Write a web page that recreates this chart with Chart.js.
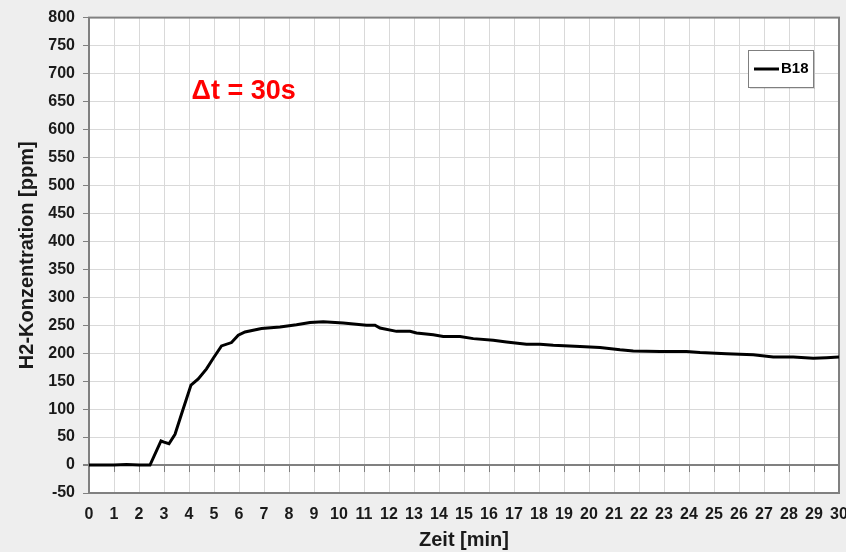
<!DOCTYPE html>
<html>
<head>
<meta charset="utf-8">
<script src="https://cdn.jsdelivr.net/npm/chart.js@4"></script>
<style>
  html, body { margin: 0; padding: 0; background: #eeeeee; }
  #wrap { width: 846px; height: 552px; }
</style>
</head>
<body>
<div id="wrap"><canvas id="chartH2" width="846" height="552"></canvas></div>
<script>
// Zeit [min] und H2-Konzentration [ppm]
const times = [0, 0.5, 1, 1.5, 2, 2.44, 2.88, 3.0, 3.2, 3.44, 3.75, 4.08, 4.37, 4.7, 4.97, 5.3, 5.7, 5.97,
  6.24, 6.9, 7.64, 8.3, 8.84, 9.37, 10.17, 11.1, 11.44, 11.64, 12.3, 12.84, 13.1, 13.77, 14.17, 14.84,
  15.37, 16.17, 16.7, 17.5, 18.04, 18.57, 19.64, 20.44, 21.24, 21.77, 22.84, 23.9, 24.44, 25.5, 26.57,
  27.37, 28.17, 28.97, 29.5, 30];
const valuesB18 = [0, 0, 0, 1, 0, 0, 43, 41, 38, 55, 98, 143, 154, 172, 191, 213, 219, 232,
  238, 244, 247, 251, 255, 256, 254, 250, 250, 245, 239, 239, 236, 233, 230, 230,
  226, 223, 220, 216, 216, 214, 212, 210, 206, 204, 203, 203, 201, 199, 197,
  193, 193, 191, 192, 193];
const seriesLabel = 'B18';
const annotationText = '\u0394t = 30s';
const annotationPos = { x: 4.1, y: 667 };

const gridColor = '#d9d9d9';
const axisColor = '#808080';

// Hintergrund, Rahmen, Nulllinien-Ticks, Legende und Beschriftung
const extrasPlugin = {
  id: 'extras',
  beforeDraw(chart) {
    const { ctx, chartArea } = chart;
    ctx.save();
    ctx.fillStyle = '#ffffff';
    ctx.fillRect(chartArea.left, chartArea.top, chartArea.right - chartArea.left, chartArea.bottom - chartArea.top);
    ctx.restore();
  },
  beforeDatasetsDraw(chart) {
    const { ctx, chartArea, scales: { x, y } } = chart;
    const y0 = y.getPixelForValue(0);
    ctx.save();
    ctx.strokeStyle = axisColor;
    ctx.lineWidth = 1;
    for (let t = 0; t <= 30; t++) {
      const px = Math.round(x.getPixelForValue(t)) + 0.5;
      ctx.beginPath();
      ctx.moveTo(px, y0);
      ctx.lineTo(px, y0 + 7);
      ctx.stroke();
    }
    ctx.lineWidth = 2;
    ctx.strokeRect(chartArea.left, chartArea.top, chartArea.right - chartArea.left, chartArea.bottom - chartArea.top);
    ctx.restore();
  },
  afterDraw(chart) {
    const { ctx, chartArea, scales: { x, y } } = chart;
    ctx.save();
    // Legende
    const bx = chartArea.right - 91, by = 50, bw = 65, bh = 37;
    ctx.fillStyle = 'rgba(0,0,0,0.12)';
    ctx.fillRect(bx + 2, by + 2, bw, bh);
    ctx.fillStyle = '#ffffff';
    ctx.fillRect(bx, by, bw, bh);
    ctx.strokeStyle = '#7f7f7f';
    ctx.lineWidth = 1;
    ctx.strokeRect(bx + 0.5, by + 0.5, bw, bh);
    ctx.strokeStyle = '#000';
    ctx.lineWidth = 3;
    ctx.beginPath();
    ctx.moveTo(bx + 6, by + 19);
    ctx.lineTo(bx + 31, by + 19);
    ctx.stroke();
    ctx.fillStyle = '#000';
    ctx.font = 'bold 15px "Liberation Sans", Arial, sans-serif';
    ctx.textBaseline = 'middle';
    ctx.textAlign = 'left';
    ctx.fillText(seriesLabel, bx + 33, by + 19);
    // Delta-t
    ctx.fillStyle = '#ff0000';
    ctx.font = 'bold 27px "Liberation Sans", Arial, sans-serif';
    ctx.fillText(annotationText, x.getPixelForValue(annotationPos.x), y.getPixelForValue(annotationPos.y));
    ctx.restore();
  }
};

new Chart(document.getElementById('chartH2').getContext('2d'), {
  type: 'line',
  data: {
    datasets: [{
      label: seriesLabel,
      data: times.map((t, i) => ({ x: t, y: valuesB18[i] })),
      borderColor: '#000000',
      borderWidth: 3,
      pointRadius: 0,
      tension: 0,
      fill: false
    }]
  },
  options: {
    responsive: false,
    animation: false,
    devicePixelRatio: 1,
    layout: { padding: { top: 15, right: 7, bottom: 0, left: 0 } },
    plugins: {
      legend: { display: false },
      tooltip: { enabled: false }
    },
    scales: {
      x: {
        type: 'linear',
        min: 0,
        max: 30,
        afterFit: (scale) => { scale.height = 59; scale.paddingLeft = 0; scale.paddingRight = 0; },
        ticks: {
          stepSize: 1,
          maxRotation: 0,
          autoSkip: false,
          padding: 12,
          color: '#1a1a1a',
          font: { family: '"Liberation Sans Narrow", "Liberation Sans", Arial', size: 16, weight: 'bold' }
        },
        grid: { color: gridColor, drawTicks: false },
        border: { color: axisColor, width: 2 },
        title: {
          display: true,
          text: 'Zeit [min]',
          color: '#1a1a1a',
          padding: { top: 0, bottom: 0 },
          font: { family: '"Liberation Sans", Arial', size: 20, weight: 'bold' }
        }
      },
      y: {
        min: -50,
        max: 800,
        afterFit: (scale) => { scale.width = 89; },
        ticks: {
          stepSize: 50,
          padding: 8,
          color: '#1a1a1a',
          font: { family: '"Liberation Sans", Arial', size: 16, weight: 'bold' }
        },
        grid: {
          color: (c) => c.tick && c.tick.value === 0 ? axisColor : gridColor,
          lineWidth: (c) => c.tick && c.tick.value === 0 ? 2 : 1,
          tickColor: axisColor,
          tickLength: 6
        },
        border: { color: axisColor, width: 2 },
        title: {
          display: true,
          text: 'H2-Konzentration [ppm]',
          color: '#1a1a1a',
          padding: { top: 15, bottom: 0 },
          font: { family: '"Liberation Sans", Arial', size: 20, weight: 'bold' }
        }
      }
    }
  },
  plugins: [extrasPlugin]
});
</script>
</body>
</html>
